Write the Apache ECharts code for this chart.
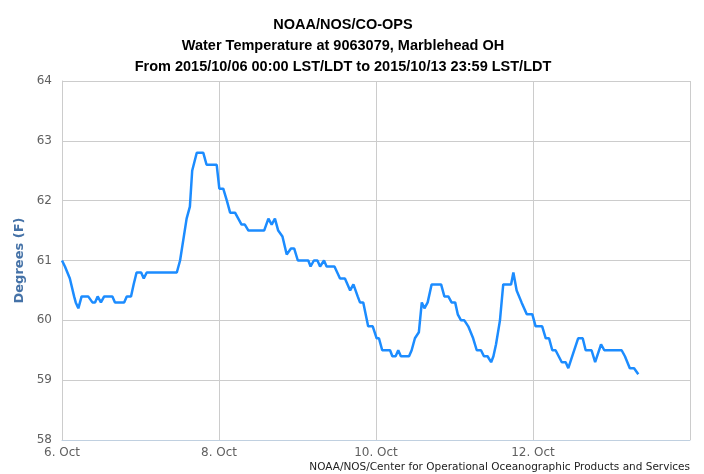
<!DOCTYPE html>
<html>
<head>
<meta charset="utf-8">
<script src="https://cdn.jsdelivr.net/npm/echarts@6/dist/echarts.min.js"></script>
<style>
  html, body { margin: 0; padding: 0; background: #fff; }
  #chart { width: 704px; height: 474px; }
</style>
</head>
<body>
<div id="chart"></div>
<script>
// hours since 2015/10/06 00:00 LST/LDT
var hours = [
  0.0, 0.9, 2.4, 3.7, 4.2, 5.0, 6.0, 8.0, 9.3, 10.1, 10.9, 11.9, 12.9, 15.4, 16.2, 19.0, 19.8, 21.1,
  21.9, 22.8, 24.2, 25.0, 25.9, 35.1, 36.1, 38.1, 39.1, 39.8, 41.2, 43.2, 44.2, 47.3, 48.1, 49.3,
  50.4, 51.4, 52.9, 54.9, 55.9, 57.0, 61.8, 63.1, 64.1, 65.1, 66.1, 67.4, 68.7, 70.0, 71.0, 72.1,
  75.3, 76.0, 77.0, 78.1, 78.9, 80.1, 80.9, 83.3, 85.0, 86.5, 88.1, 89.1, 90.4, 91.1, 92.1, 93.6,
  95.0, 96.2, 96.9, 97.9, 100.3, 101.0, 102.0, 102.8, 103.6, 106.1, 106.9, 107.9, 109.1, 110.0,
  110.8, 111.8, 113.0, 115.9, 116.9, 118.1, 119.1, 120.2, 121.0, 122.0, 123.0, 124.2, 125.7, 126.8,
  128.1, 129.0, 130.1, 131.2, 131.9, 132.7, 133.9, 134.9, 137.3, 138.0, 139.0, 140.5, 142.1, 143.8,
  144.8, 146.8, 147.9, 148.9, 149.9, 150.9, 152.8, 154.0, 154.8, 156.0, 157.8, 159.2, 160.1, 161.9,
  163.0, 164.8, 165.8, 171.1, 172.1, 173.6, 174.9, 176.2
];
var tempF = [
  61.0, 60.9, 60.7, 60.4, 60.3, 60.2, 60.4, 60.4, 60.3, 60.3, 60.4, 60.3, 60.4, 60.4, 60.3, 60.3, 60.4, 60.4,
  60.6, 60.8, 60.8, 60.7, 60.8, 60.8, 61.0, 61.7, 61.9, 62.5, 62.8, 62.8, 62.6, 62.6, 62.2, 62.2,
  62.0, 61.8, 61.8, 61.6, 61.6, 61.5, 61.5, 61.7, 61.6, 61.7, 61.5, 61.4, 61.1, 61.2, 61.2, 61.0,
  61.0, 60.9, 61.0, 61.0, 60.9, 61.0, 60.9, 60.9, 60.7, 60.7, 60.5, 60.6, 60.4, 60.3, 60.3, 59.9,
  59.9, 59.7, 59.7, 59.5, 59.5, 59.4, 59.4, 59.5, 59.4, 59.4, 59.5, 59.7, 59.8, 60.3,
  60.2, 60.3, 60.6, 60.6, 60.4, 60.4, 60.3, 60.3, 60.1, 60.0, 60.0, 59.9, 59.7, 59.5,
  59.5, 59.4, 59.4, 59.3, 59.4, 59.6, 60.0, 60.6, 60.6, 60.8, 60.5, 60.3, 60.1, 60.1,
  59.9, 59.9, 59.7, 59.7, 59.5, 59.5, 59.3, 59.3, 59.2, 59.4, 59.7, 59.7, 59.5, 59.5,
  59.3, 59.6, 59.5, 59.5, 59.4, 59.2, 59.2, 59.1
];
var dayLabels = ['6. Oct', '8. Oct', '10. Oct', '12. Oct', '14. Oct'];
var yTicks = [58, 59, 60, 61, 62, 63, 64];

var chart = echarts.init(document.getElementById('chart'));
var seriesData = hours.map(function (h, i) { return [h, tempF[i]]; });

chart.setOption({
  animation: false,
  title: [{
    text: 'NOAA/NOS/CO-OPS\nWater Temperature at 9063079, Marblehead OH\nFrom 2015/10/06 00:00 LST/LDT to 2015/10/13 23:59 LST/LDT',
    left: 338,
    top: 9,
    textAlign: 'center',
    textStyle: {
      fontFamily: 'Liberation Sans',
      fontSize: 14.5,
      fontWeight: 'bold',
      color: '#000',
      lineHeight: 21
    }
  }, {
    text: 'NOAA/NOS/Center for Operational Oceanographic Products and Services',
    right: 9,
    bottom: -4,
    textStyle: {
      fontFamily: 'DejaVu Sans',
      fontSize: 10.5,
      fontWeight: 'normal',
      color: '#222'
    }
  }],
  grid: {
    left: 62,
    right: 14,
    top: 81,
    bottom: 34
  },
  xAxis: {
    type: 'value',
    min: 0,
    max: 192,
    interval: 48,
    axisLine: { lineStyle: { color: '#C0D0E0', width: 1 } },
    axisTick: { show: false },
    splitLine: { show: true, lineStyle: { color: '#cccccc', width: 1 } },
    axisLabel: {
      showMaxLabel: false,
      color: '#606060',
      fontFamily: 'DejaVu Sans',
      fontSize: 12,
      margin: 7,
      formatter: function (v) { return dayLabels[Math.round(v / 48)]; }
    }
  },
  yAxis: {
    type: 'value',
    min: yTicks[0],
    max: yTicks[yTicks.length - 1],
    interval: 1,
    name: 'Degrees (F)',
    nameLocation: 'middle',
    nameGap: 34,
    nameTextStyle: {
      color: '#4572A7',
      fontFamily: 'DejaVu Sans',
      fontSize: 13,
      fontWeight: 'bold'
    },
    axisLine: { show: true, lineStyle: { color: '#cccccc' } },
    axisTick: { show: false },
    splitLine: { lineStyle: { color: '#cccccc', width: 1 } },
    axisLabel: {
      color: '#606060',
      fontFamily: 'DejaVu Sans',
      fontSize: 12,
      margin: 10
    }
  },
  series: [{
    type: 'line',
    data: seriesData,
    showSymbol: false,
    lineStyle: { color: '#1c8cff', width: 2.5 },
    itemStyle: { color: '#1c8cff' }
  }]
});
</script>
</body>
</html>
